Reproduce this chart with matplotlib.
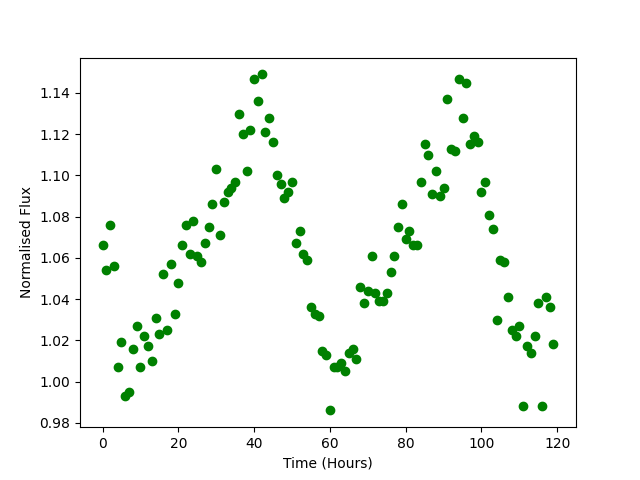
import numpy as np
import matplotlib
matplotlib.use("Agg")
import matplotlib.pyplot as plt

hours = np.arange(120)
flux = [1.066, 1.054, 1.076, 1.056, 1.007, 1.019, 0.993, 0.995, 1.016, 1.027,
        1.007, 1.022, 1.017, 1.010, 1.031, 1.023, 1.052, 1.025, 1.057, 1.033,
        1.048, 1.066, 1.076, 1.062, 1.078, 1.061, 1.058, 1.067, 1.075, 1.086,
        1.103, 1.071, 1.087, 1.092, 1.094, 1.097, 1.130, 1.120, 1.102, 1.122,
        1.147, 1.136, 1.149, 1.121, 1.128, 1.116, 1.100, 1.096, 1.089, 1.092,
        1.097, 1.067, 1.073, 1.062, 1.059, 1.036, 1.033, 1.032, 1.015, 1.013,
        0.986, 1.007, 1.007, 1.009, 1.005, 1.014, 1.016, 1.011, 1.046, 1.038,
        1.044, 1.061, 1.043, 1.039, 1.039, 1.043, 1.053, 1.061, 1.075, 1.086,
        1.069, 1.073, 1.066, 1.066, 1.097, 1.115, 1.110, 1.091, 1.102, 1.090,
        1.094, 1.137, 1.113, 1.112, 1.147, 1.128, 1.145, 1.115, 1.119, 1.116,
        1.092, 1.097, 1.081, 1.074, 1.030, 1.059, 1.058, 1.041, 1.025, 1.022,
        1.027, 0.988, 1.017, 1.014, 1.022, 1.038, 0.988, 1.041, 1.036, 1.018]

fig, ax = plt.subplots(figsize=(6.4, 4.8), dpi=100)
ax.plot(hours, flux, 'o', color='green')
ax.set_xlabel('Time (Hours)')
ax.set_ylabel('Normalised Flux')
fig.savefig('out.png')
